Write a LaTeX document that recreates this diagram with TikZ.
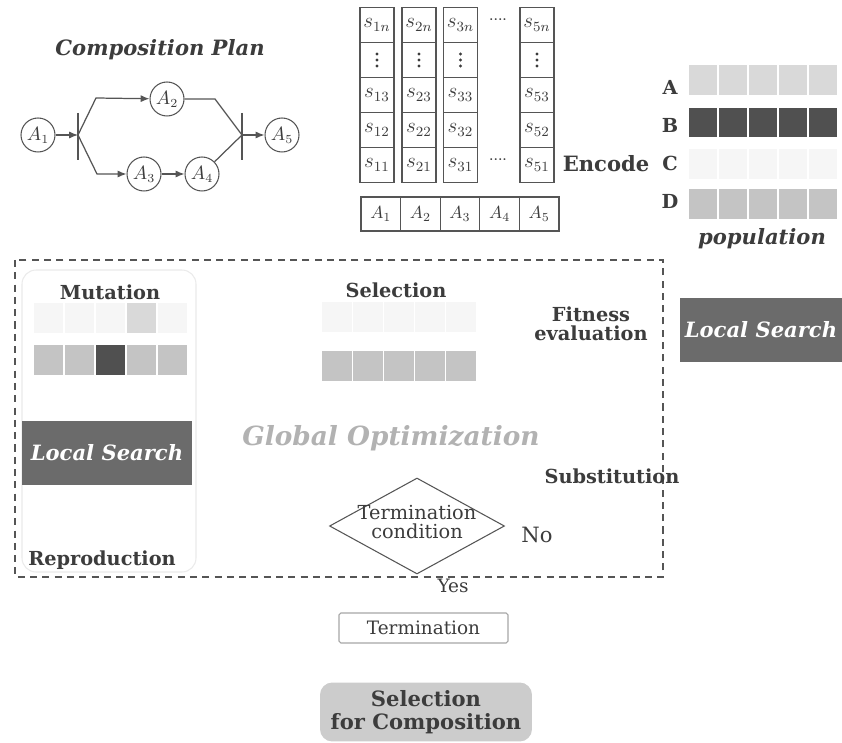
\documentclass[tikz,border=0pt]{standalone}
\usepackage{fontspec}
\setmainfont{DejaVu Serif}
\usetikzlibrary{shapes.geometric,arrows.meta}
\definecolor{txt}{HTML}{3C3C3C}
\definecolor{ln}{HTML}{555555}
\definecolor{darkcell}{HTML}{505050}
\definecolor{midcell}{HTML}{C4C4C4}
\definecolor{lightcell}{HTML}{D9D9D9}
\definecolor{paleCell}{HTML}{F6F6F6}
\definecolor{lsbox}{HTML}{6B6B6B}
\tikzset{
  lbl/.style={font=\bfseries\fontsize{11}{12.5}\selectfont, text=txt, align=center, inner sep=0pt},
  ilbl/.style={font=\bfseries\itshape\fontsize{11}{12.5}\selectfont, text=txt, inner sep=0pt},
  rlbl/.style={font=\fontsize{10.5}{12}\selectfont, text=txt, align=center, inner sep=0pt},
  anode/.style={circle, draw=ln, line width=0.6pt, minimum size=0.68cm, inner sep=0pt, font=\fontsize{10.5}{10.5}\selectfont, text=txt},
  scell/.style={draw=ln, line width=0.6pt, minimum width=0.68cm, minimum height=0.7cm, inner sep=0pt, font=\fontsize{12}{12}\selectfont, text=txt},
  acell/.style={draw=ln, line width=0.6pt, minimum width=0.792cm, minimum height=0.68cm, inner sep=0pt, font=\fontsize{10}{10}\selectfont, text=txt},
  pcell/.style={draw=white, line width=0.6pt, minimum width=0.6cm, minimum height=0.62cm, inner sep=0pt},
  mcell/.style={draw=white, line width=0.6pt, minimum width=0.62cm, minimum height=0.64cm, inner sep=0pt},
  arr/.style={-{Latex[length=5pt,width=4pt]}, draw=ln, line width=0.7pt},
  pln/.style={draw=ln, line width=0.7pt},
  lsearch/.style={fill=lsbox, text=white, font=\bfseries\itshape\fontsize{12}{14}\selectfont, inner sep=0pt},
}
\begin{document}
\begin{tikzpicture}[x=0.02cm,y=-0.02cm]
\useasboundingbox (0,0) rectangle (842,743);
\fill[white] (0,0) rectangle (842,743);

% ---------- Composition plan ----------
\node[ilbl, font=\bfseries\itshape\fontsize{12}{14}\selectfont] (cptitle) at (160,50) {Composition Plan};
\node[anode] (a1) at (38,135) {$A_1$};
\node[anode] (a2) at (167,99) {$A_2$};
\node[anode] (a3) at (144,174) {$A_3$};
\node[anode] (a4) at (202,174) {$A_4$};
\node[anode] (a5) at (282,135) {$A_5$};
\coordinate (bl) at (78,135);
\coordinate (blt) at (78,113);
\coordinate (blb) at (78,160);
\coordinate (br) at (242,135);
\coordinate (brt) at (242,113);
\coordinate (brb) at (242,160);
\coordinate (bu) at (96,98);
\coordinate (bd) at (97,174);
\coordinate (ru) at (215,99);
\draw[pln] (blt) -- (blb);
\draw[pln] (brt) -- (brb);
\draw[arr] (a1) -- (bl);
\draw[arr] (bl) -- (bu) -- (a2);
\draw[arr] (bl) -- (bd) -- (a3);
\draw[arr] (a3) -- (a4);
\draw[pln] (a2) -- (ru) -- (br);
\draw[pln] (a4) -- (br);
\draw[arr] (br) -- (a5);

% ---------- Candidate matrix ----------
\foreach \c/\x in {1/377,2/419,3/460.5,5/537}{
  \node[scell] (m\c n) at (\x,25) {$s_{\c n}$};
  \node[scell] (m\c d) at (\x,60) {};
  \foreach \dy in {-6,0,6}{ \fill[txt] ([yshift=-\dy*0.02cm]m\c d.center) circle (0.9pt); }
  \node[scell] (m\c 3) at (\x,95) {$s_{\c 3}$};
  \node[scell] (m\c 2) at (\x,130) {$s_{\c 2}$};
  \node[scell] (m\c 1) at (\x,165) {$s_{\c 1}$};
}
\node[text=txt, font=\fontsize{8}{8}\selectfont] (dotsT) at (498,22) {····};
\node[text=txt, font=\fontsize{8}{8}\selectfont] (dotsB) at (498,162) {····};
\foreach \i/\x in {1/380.8,2/420.4,3/460,4/499.6,5/539.2}{
  \node[acell] (b\i) at (\x,214) {$A_{\i}$};
}
\node[lbl, font=\bfseries\fontsize{12}{14}\selectfont] (encode) at (606,164) {Encode};

% ---------- Population ----------
\node[lbl] (pA) at (670,87) {A};
\node[lbl] (pB) at (670,125) {B};
\node[lbl] (pC) at (670,163) {C};
\node[lbl] (pD) at (670,201) {D};
\foreach \x in {703,733,763,793,823}{
  \node[pcell, fill=lightcell] at (\x,80) {};
  \node[pcell, fill=darkcell] at (\x,122.5) {};
  \node[pcell, fill=paleCell] at (\x,164) {};
  \node[pcell, fill=midcell] at (\x,204) {};
}
\node[ilbl, font=\bfseries\itshape\fontsize{12}{14}\selectfont] (pop) at (762,239) {population};
\node[lsearch, minimum width=3.24cm, minimum height=1.3cm] (lsR) at (761,330) {Local Search};

% ---------- Global optimisation box ----------
\draw[draw=ln, line width=0.6pt, dash pattern=on 4pt off 3pt] (15,260) rectangle (663,577);
\draw[draw=black!8, line width=0.6pt, rounded corners=8pt] (22,270) rectangle (196,572);
\node[font=\bfseries\itshape\fontsize{15}{18}\selectfont, text=black!30] (glob) at (391,438) {Global Optimization};

\node[lbl] (mut) at (110,292) {Mutation};
\foreach \x in {48.5,79.5,110.5,172.5}{ \node[mcell, fill=paleCell] at (\x,318) {}; }
\node[mcell, fill=lightcell] at (141.5,318) {};
\foreach \x in {48.5,79.5,141.5,172.5}{ \node[mcell, fill=midcell] at (\x,360) {}; }
\node[mcell, fill=darkcell] at (110.5,360) {};
\node[lsearch, minimum width=3.4cm, minimum height=1.3cm] (lsL) at (107,453) {Local Search};
\node[lbl] (repro) at (102,560) {Reproduction};

\node[lbl] (sel) at (396,290) {Selection};
\foreach \x in {337,368,399,430,461}{
  \node[mcell, fill=paleCell] at (\x,317) {};
  \node[mcell, fill=midcell] at (\x,366) {};
}
\node[lbl] (fit) at (591,324) {Fitness\\[-2pt]evaluation};
\node[lbl] (subst) at (612,476) {Substitution};

\node[diamond, draw=ln, line width=0.6pt, minimum width=3.5cm, minimum height=1.92cm, inner sep=0pt] (cond) at (417,526) {};
\node[rlbl, font=\fontsize{11}{12.5}\selectfont] (condt) at (417,522) {Termination\\[-2pt]condition};
\node[rlbl, font=\fontsize{12}{14}\selectfont] (no) at (537,535) {No};
\node[rlbl] (yes) at (453,586) {Yes};

% ---------- Termination ----------
\node[draw=black!35, line width=0.6pt, minimum width=3.38cm, minimum height=0.6cm, rlbl, rounded corners=1pt] (term) at (423.5,628) {Termination};
\node[fill=black!20, rounded corners=7pt, minimum width=4.24cm, minimum height=1.18cm, lbl, font=\bfseries\fontsize{12}{14}\selectfont] (sfc) at (426,712) {Selection\\[-1pt]for Composition};
\end{tikzpicture}
\end{document}
